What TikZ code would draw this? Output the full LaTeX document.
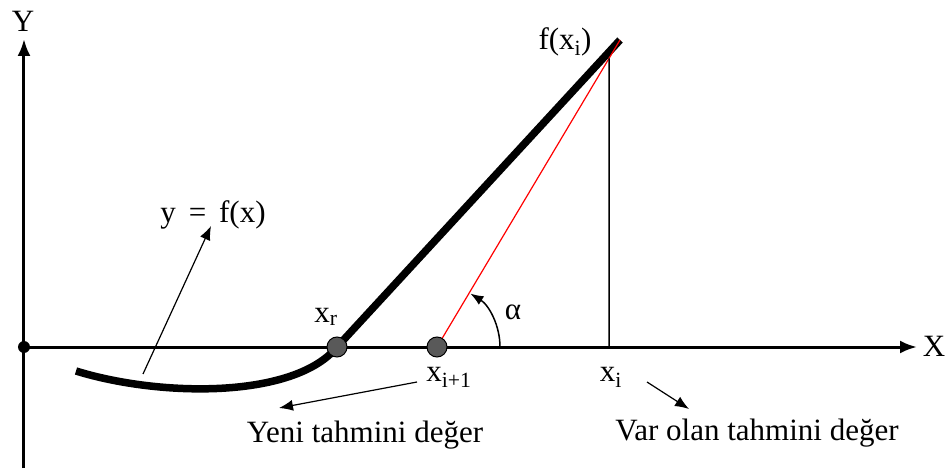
\documentclass[tikz,border=0pt]{standalone}
\usepackage{fontspec}
\setmainfont{Liberation Serif}
\usetikzlibrary{calc, arrows.meta}

\begin{document}
\begin{tikzpicture}[x=1pt, y=1pt, thick, font=\fontsize{31}{36}\selectfont]
  % frame in reference pixels, origin where the axes cross
  \useasboundingbox (-24,-121) rectangle (925,347);
  \coordinate (O) at (0,0);
  \coordinate (Ybot) at (0,-121);
  \coordinate (Ytop) at (0,308);
  \coordinate (Xend) at (893,0);
  \coordinate (S) at (52,-24);
  \coordinate (R) at (313,0);
  \coordinate (N) at (413,0);
  \coordinate (I) at (585,0);
  \coordinate (F) at (596,307);
  \coordinate (H) at ($(N)!{172/183}!(F)$);
  % axes
  \draw[line width=3pt, -{Latex[length=17pt,width=13pt]}] (Ybot) -- (Ytop);
  \draw[line width=3pt, -{Latex[length=17pt,width=13pt]}] (O) -- (Xend);
  \node at (-1,326) {Y};
  \node at (910,1) {X};
  % curve and its straight part
  \draw[line width=7.5pt] (S) .. controls (136,-50) and (270,-52) .. (R) -- (F);
  \draw[red, line width=1.2pt] (N) -- (F);
  \draw[line width=1.5pt] (I) -- (H);
  \fill (O) circle (6);
  \filldraw[fill=black!65, draw=black, line width=1pt] (R) circle (10);
  \filldraw[fill=black!65, draw=black, line width=1pt] (N) circle (10);
  % angle
  \draw[line width=1.5pt, -{Latex[length=13pt,width=10pt]}] ($(N)+(63,0)$) arc (0:58:63);
  \node at (489,35) {α};
  % labels
  \node (xr) at (302,30) {x\textsubscript{r}};
  \node (xn) at (425,-30) {x\textsubscript{i+1}};
  \node (xi) at (587,-30) {x\textsubscript{i}};
  \node (fx) at (541,305) {f(x\textsubscript{i})};
  \node (yf) at (189,132) {y\, =\, f(x)};
  \node (yeni) at (341,-88) {Yeni tahmini değer};
  \node (var) at (733,-86) {Var olan tahmini değer};
  % pointers
  \coordinate (yfa) at (119,-27);
  \coordinate (yfb) at (187,121);
  \coordinate (yna) at (393,-35);
  \coordinate (ynb) at (255,-61);
  \coordinate (vra) at (623,-35);
  \coordinate (vrb) at (665,-62);
  \draw[line width=1.2pt, -{Latex[length=14pt,width=11pt]}] (yfa) -- (yfb);
  \draw[line width=1.2pt, -{Latex[length=14pt,width=11pt]}] (yna) -- (ynb);
  \draw[line width=1.2pt, -{Latex[length=14pt,width=11pt]}] (vra) -- (vrb);
\end{tikzpicture}
\end{document}
